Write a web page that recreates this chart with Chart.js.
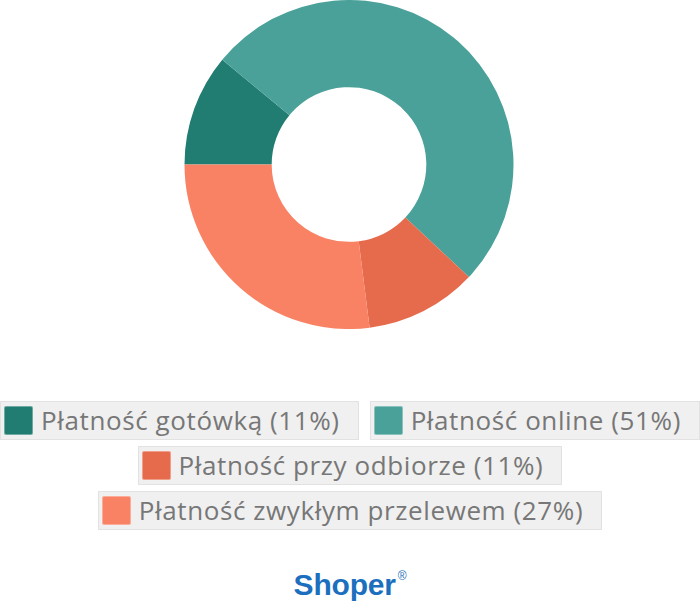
<!DOCTYPE html>
<html>
<head>
<meta charset="utf-8">
<script src="https://cdn.jsdelivr.net/npm/chart.js@4"></script>
<style>
  body { margin: 0; background: #fff; width: 700px; height: 610px; overflow: hidden; font-family: "Open Sans", sans-serif; }
  #chartBox { position: absolute; left: 0; top: 0; width: 698px; height: 329px; }
  #legend { position: absolute; left: -6px; top: 401px; width: 712px; display: flex; flex-wrap: wrap; justify-content: center; column-gap: 11px; row-gap: 6px; }
  .item { display: flex; align-items: center; background: #f0f0f0; border: 1px solid #e2e2e2; padding: 3px 18px 3px 3px; height: 31px; }
  .sw { width: 29px; height: 29px; border-radius: 2px; margin-right: 8px; box-sizing: border-box; border: 1px solid rgba(255,255,255,0.35); }
  .txt { font-size: 26px; letter-spacing: 0.6px; color: #777; white-space: nowrap; line-height: 31px; }
  #logo { position: absolute; left: 0; width: 700px; top: 568px; text-align: center; font-family: "Liberation Sans", Arial, sans-serif; font-weight: bold; font-size: 30px; color: #1c6fbe; letter-spacing: -0.2px; }
  #logo sup { font-size: 12px; font-weight: normal; vertical-align: 15px; margin-left: 2px; }
</style>
</head>
<body>
<div id="chartBox"><canvas id="paymentChart"></canvas></div>
<div id="legend"></div>
<div id="logo">Shoper<sup>®</sup></div>
<script>
// Payment methods share
const labels = ["Płatność gotówką", "Płatność online", "Płatność przy odbiorze", "Płatność zwykłym przelewem"];
const shares = [11, 51, 11, 27];
const colors = ["#217d71", "#4aa199", "#e66b4c", "#f98264"];

const ctxPayment = document.getElementById("paymentChart").getContext("2d");
new Chart(ctxPayment, {
  type: "doughnut",
  data: {
    labels: labels,
    datasets: [{
      data: shares,
      backgroundColor: colors,
      borderWidth: 0
    }]
  },
  options: {
    responsive: true,
    maintainAspectRatio: false,
    animation: false,
    rotation: -90,
    cutout: "47%",
    plugins: {
      legend: { display: false },
      tooltip: { enabled: false }
    }
  }
});

// Legend boxes built from the same arrays
const legendEl = document.getElementById("legend");
labels.forEach((lab, i) => {
  const item = document.createElement("div");
  item.className = "item";
  const sw = document.createElement("div");
  sw.className = "sw";
  sw.style.background = colors[i];
  const txt = document.createElement("span");
  txt.className = "txt";
  txt.textContent = lab + " (" + shares[i] + "%)";
  item.appendChild(sw);
  item.appendChild(txt);
  legendEl.appendChild(item);
});
</script>
</body>
</html>
